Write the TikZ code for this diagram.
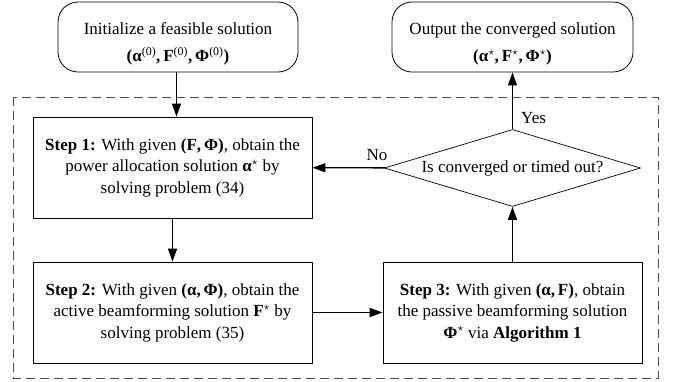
\documentclass[tikz,border=0pt]{standalone}
\usepackage{fontspec}
\setmainfont{Liberation Serif}
\usetikzlibrary{arrows.meta,shapes.geometric}
\newcommand{\mya}{\textbf{α}}
\newcommand{\myF}{\textbf{F}}
\newcommand{\myPhi}{\textbf{Φ}}
\newcommand{\mysup}[1]{\textsuperscript{#1}}
\newcommand{\mystar}{$^{\star}$}
\newcommand{\mycomma}{{\bfseries ,}\,}
\tikzset{
  base/.style={font=\fontsize{17}{21.5}\selectfont, align=center, inner sep=0pt},
  roundbox/.style={draw, line width=0.8pt, rounded corners=20pt, minimum width=240pt, minimum height=70pt, inner sep=0pt},
  roundtext/.style={base, font=\fontsize{17}{27}\selectfont},
  stepbox/.style={base, draw, line width=0.8pt, minimum width=279pt, minimum height=101pt},
  stepboxb/.style={base, draw, line width=0.8pt, minimum width=259pt, minimum height=101pt},
  decision/.style={base, draw, line width=0.7pt, diamond, aspect=3.3, minimum width=256pt, minimum height=77pt},
  conn/.style={line width=1.4pt, -{Triangle[length=13pt,width=9pt]}},
  frame/.style={draw=black!70, line width=1pt, dash pattern=on 9pt off 5pt},
  lbl/.style={font=\fontsize{17}{20}\selectfont, inner sep=0pt}
}
\begin{document}
\begin{tikzpicture}[x=1pt,y=-1pt]
\useasboundingbox (0,0) rectangle (678,381);
\draw[frame] (13,97) rectangle (658,378);
\node[roundbox] (init) at (178,37) {};
\node[roundtext] (initt) at (178,44) {Initialize a feasible solution\\ {\bfseries(}\mya\mysup{(0)}\mycomma\myF\mysup{(0)}\mycomma\myPhi\mysup{(0)}{\bfseries)}};
\node[roundbox, minimum width=241pt] (out) at (512.5,37) {};
\node[roundtext] (outt) at (512.5,44) {Output the converged solution\\ {\bfseries(}\mya\mystar\mycomma\myF\mystar\mycomma\myPhi\mystar{\bfseries)}};
\node[stepbox] (s1) at (172.5,167.5) {\textbf{Step 1:} With given {\bfseries(}\myF\mycomma\myPhi{\bfseries)}, obtain the\\ power allocation solution \mya\mystar{} by\\ solving problem (34)};
\node[stepbox] (s2) at (172.5,312.5) {\textbf{Step 2:} With given {\bfseries(}\mya\mycomma\myPhi{\bfseries)}, obtain the\\ active beamforming solution \myF\mystar{} by\\ solving problem (35)};
\node[stepboxb] (s3) at (512.5,312.5) {\textbf{Step 3:} With given {\bfseries(}\mya\mycomma\myF{\bfseries)}, obtain\\ the passive beamforming solution\\ \myPhi\mystar{} via \textbf{Algorithm 1}};
\node[decision] (dec) at (512.5,168) {Is converged or timed out?};
\draw[conn] (init.south) ++(-1.5,0) coordinate (a0) -- (a0 |- s1.north);
\draw[conn] (s1) -- (s2);
\draw[conn] (s2) -- (s3);
\draw[conn] (s3) -- (dec);
\draw[conn] (dec) -- (out);
\draw[conn] (dec) -- (s1);
\node[lbl, anchor=west] (yes) at (521,118) {Yes};
\node[lbl] (no) at (377,155) {No};
\end{tikzpicture}
\end{document}
